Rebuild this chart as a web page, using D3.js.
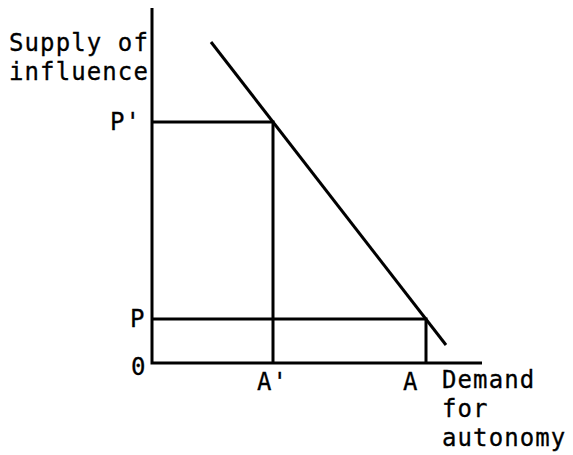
<!DOCTYPE html>
<html>
<head>
<meta charset="utf-8">
<script src="https://cdn.jsdelivr.net/npm/d3@7"></script>
<style>
  body { margin: 0; background: #fff; }
  text { font-family: "DejaVu Sans Mono", monospace; font-size: 24px; fill: #000; letter-spacing: 1.1px; stroke: #000; stroke-width: 0.3px; }
</style>
</head>
<body>
<script>
// axis extents (data units)
const xMax = 330, yMax = 355;

// the sloping line, two end points
const curve = [[59, 321], [294, 18]];

// the two marked points on it: A' with P', A with P
const points = [
    {x: 121, y: 241, xLabel: "A'", yLabel: "P'"},
    {x: 274, y: 44, xLabel: "A", yLabel: "P"}
];

const yTitle = ["Supply of", "influence"];
const xTitle = ["Demand", "for", "autonomy"];
const origin = "0";

const width = 573, height = 455;

const x = d3.scaleLinear().domain([0, xMax]).range([152, 482]);
const y = d3.scaleLinear().domain([0, yMax]).range([363, 8]);

const svg = d3.select("body").append("svg")
    .attr("width", width)
    .attr("height", height);

const ink = g => g.attr("stroke", "#000").attr("stroke-width", 3).attr("fill", "none");

// axes
svg.append("path")
    .attr("d", `M${x(0)},${y(yMax)}V${y(0)}H${x(xMax)}`)
    .call(ink)
    .attr("stroke-linejoin", "miter");

// drop lines from each point
svg.append("g").selectAll("path")
    .data(points)
    .join("path")
    .attr("d", d => `M${x(0)},${y(d.y)}H${x(d.x)}V${y(0)}`)
    .call(ink);

// demand line
svg.append("path")
    .attr("d", d3.line().x(d => x(d[0])).y(d => y(d[1]))(curve))
    .call(ink);

// tick labels
svg.append("g").selectAll("text")
    .data(points)
    .join("text")
    .attr("x", d => x(0) - 22 - 20 * (d.yLabel.length - 1))
    .attr("y", d => y(d.y) + 8)
    .text(d => d.yLabel);

svg.append("g").selectAll("text")
    .data(points)
    .join("text")
    .attr("x", d => x(d.x) - (d.xLabel.length > 1 ? 16 : 23))
    .attr("y", y(0) + 27)
    .text(d => d.xLabel);

svg.append("text")
    .attr("x", x(0) - 21)
    .attr("y", y(0) + 12)
    .text(origin);

// axis titles
svg.append("g").selectAll("text")
    .data(yTitle)
    .join("text")
    .attr("x", 9)
    .attr("y", (d, i) => 51 + i * 29)
    .text(d => d);

svg.append("g").selectAll("text")
    .data(xTitle)
    .join("text")
    .attr("x", 442)
    .attr("y", (d, i) => y(0) + 25 + i * 29)
    .text(d => d);
</script>
</body>
</html>
